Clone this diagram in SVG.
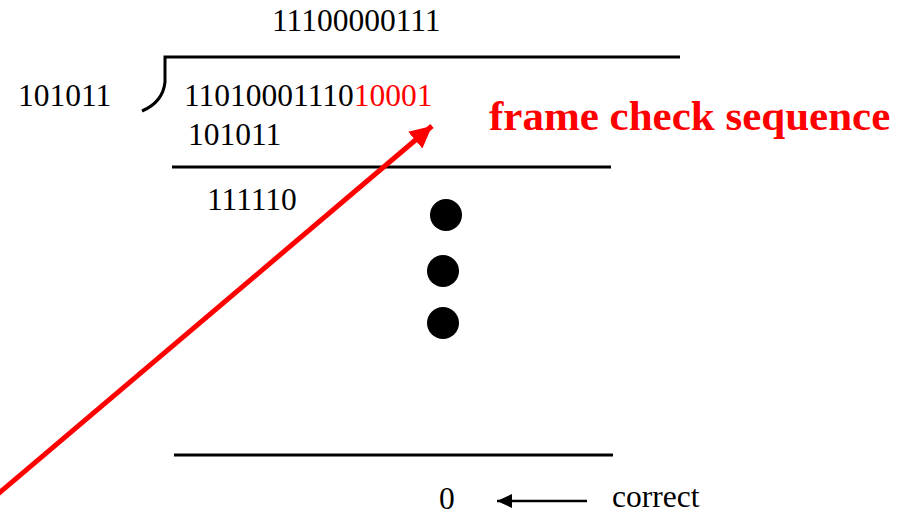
<svg xmlns="http://www.w3.org/2000/svg" width="902" height="517" viewBox="0 0 902 517">
  <defs>
    <style>
      .t { font-family: "Liberation Serif", "Times New Roman", serif; font-size: 31.5px; fill: #000; }
      .red { fill: #ff0000; }
      .bar { stroke: #000; stroke-width: 3; fill: none; }
      .dot { fill: #000; }
    </style>
    <marker id="redHead" markerUnits="userSpaceOnUse" markerWidth="24" markerHeight="22" refX="22" refY="11" orient="auto">
      <path d="M0,0 L22,11 L0,22 Z" fill="#ff0000"/>
    </marker>
    <marker id="blackHead" markerUnits="userSpaceOnUse" markerWidth="16" markerHeight="14" refX="15" refY="7" orient="auto">
      <path d="M0,0 L15,7 L0,14 Z" fill="#000"/>
    </marker>
  </defs>

  <rect width="902" height="517" fill="#fff"/>

  <!-- quotient -->
  <g id="quotient">
    <text class="t" x="272" y="31">11100000111</text>
  </g>

  <!-- divisor and division bracket -->
  <g id="divisor">
    <text class="t" x="18" y="106">101011</text>
    <path class="bar" d="M680,57 L165,57 L165,82 Q163,102 142,111"/>
  </g>

  <!-- dividend with appended check bits -->
  <g id="dividend">
    <text class="t" x="184" y="106">11010001110<tspan class="red">10001</tspan></text>
  </g>

  <g id="step1">
    <text class="t" x="188" y="145">101011</text>
    <line class="bar" x1="172" y1="167" x2="611" y2="167"/>
    <text class="t" x="207" y="210">111110</text>
  </g>

  <!-- ellipsis -->
  <g id="ellipsis">
    <circle class="dot" cx="446" cy="215" r="16"/>
    <circle class="dot" cx="443" cy="271" r="16"/>
    <circle class="dot" cx="443" cy="323" r="16"/>
  </g>

  <g id="remainder">
    <line class="bar" x1="174" y1="455" x2="613" y2="455"/>
    <text class="t" x="439" y="509">0</text>
  </g>

  <g id="fcs-label">
    <text class="t red" x="489" y="130" style="font-weight:bold;font-size:43px">frame check sequence</text>
  </g>

  <g id="correct-label">
    <text class="t" x="612" y="507">correct</text>
  </g>

  <!-- connectors -->
  <g id="connectors">
    <line x1="-2" y1="494" x2="432" y2="126" stroke="#ff0000" stroke-width="5" marker-end="url(#redHead)"/>
    <line x1="587" y1="501" x2="497" y2="501" stroke="#000" stroke-width="2.5" marker-end="url(#blackHead)"/>
  </g>
</svg>
